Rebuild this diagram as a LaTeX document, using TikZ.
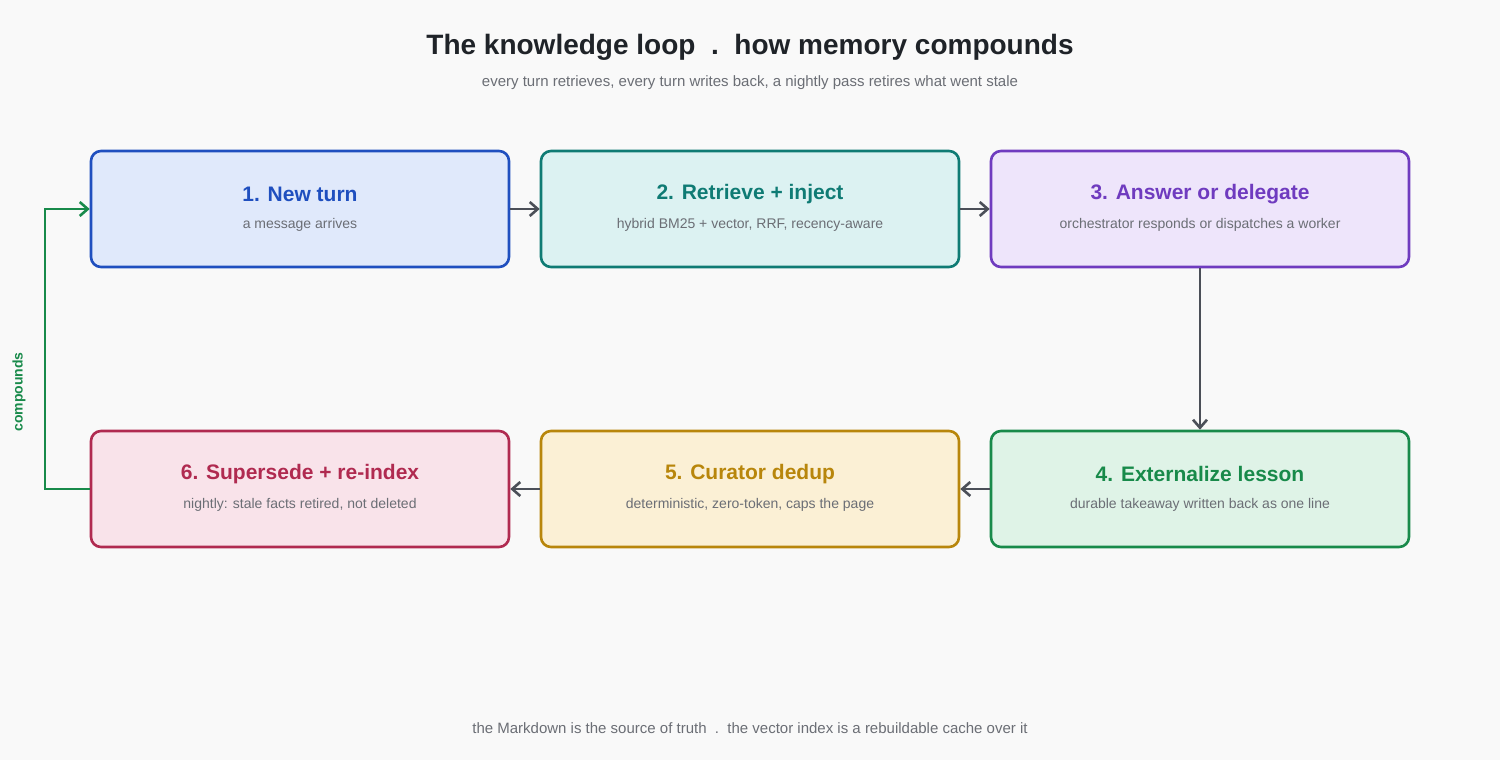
\documentclass[tikz,border=0pt]{standalone}
\usepackage{fontspec}
\setmainfont{Liberation Sans}
\usetikzlibrary{arrows.meta}
\definecolor{bg}{HTML}{F9F9F9}
\definecolor{ar}{HTML}{4B4F58}
\definecolor{tx}{HTML}{1F2328}
\definecolor{sub}{HTML}{6B6E75}
\definecolor{cA}{HTML}{1F4FBF}\definecolor{fA}{HTML}{E0E9FB}
\definecolor{cB}{HTML}{0F7B74}\definecolor{fB}{HTML}{DCF2F2}
\definecolor{cC}{HTML}{6F3BBF}\definecolor{fC}{HTML}{EEE5FB}
\definecolor{cD}{HTML}{188A4A}\definecolor{fD}{HTML}{DFF3E7}
\definecolor{cE}{HTML}{B8860B}\definecolor{fE}{HTML}{FBF0D5}
\definecolor{cF}{HTML}{B02A50}\definecolor{fF}{HTML}{F9E3EA}
\begin{document}
\begin{tikzpicture}[x=0.5pt,y=-0.5pt,
 box/.style={draw=#1,line width=1.3pt,rounded corners=5pt,minimum width=209pt,minimum height=58pt},
 ttl/.style={font=\bfseries\fontsize{10.5}{12}\selectfont,text=#1},
 st/.style={font=\fontsize{7}{8}\selectfont,text=sub},
 arr/.style={draw=ar,line width=1.3pt,-{Straight Barb[length=4pt,width=7pt]}}]
\fill[bg] (0,0) rectangle (1500,760);
\useasboundingbox (0,0) rectangle (1500,760);
\node[font=\bfseries\fontsize{14}{16}\selectfont,text=tx] (title) at (750,47) {The knowledge loop\ \ .\ \ how memory compounds};
\node[font=\fontsize{7.5}{9}\selectfont,text=sub] (subt) at (750,83) {every turn retrieves, every turn writes back, a nightly pass retires what went stale};
\node[font=\fontsize{7.5}{9}\selectfont,text=sub] (foot) at (750,728) {the Markdown is the source of truth\ \ .\ \ the vector index is a rebuildable cache over it};
\node[box=cA,fill=fA] (b1) at (300,209) {};
\node[box=cB,fill=fB] (b2) at (750,209) {};
\node[box=cC,fill=fC] (b3) at (1200,209) {};
\node[box=cD,fill=fD] (b4) at (1200,489) {};
\node[box=cE,fill=fE] (b5) at (750,489) {};
\node[box=cF,fill=fF] (b6) at (300,489) {};
\node[ttl=cA] (t1) at (300,194) {1. New turn};
\node[st] (s1) at (300,225) {a message arrives};
\node[ttl=cB] (t2) at (750,194) {2. Retrieve + inject};
\node[st] (s2) at (750,225) {hybrid BM25 + vector, RRF, recency-aware};
\node[ttl=cC] (t3) at (1200,194) {3. Answer or delegate};
\node[st] (s3) at (1200,225) {orchestrator responds or dispatches a worker};
\node[ttl=cD] (t4) at (1200,474) {4. Externalize lesson};
\node[st] (s4) at (1200,505) {durable takeaway written back as one line};
\node[ttl=cE] (t5) at (750,474) {5. Curator dedup};
\node[st] (s5) at (750,505) {deterministic, zero-token, caps the page};
\node[ttl=cF] (t6) at (300,474) {6. Supersede + re-index};
\node[st] (s6) at (300,505) {nightly: stale facts retired, not deleted};
\draw[arr] (b1) -- (b2);
\draw[arr] (b2) -- (b3);
\draw[arr] (b3) -- (b4);
\draw[arr] (b4) -- (b5);
\draw[arr] (b5) -- (b6);
\coordinate (l1) at (45,489);
\coordinate (l2) at (45,209);
\draw[arr,draw=cD] (b6.west) -- (l1) -- (l2) -- (b1.west);
\node[rotate=90,font=\bfseries\fontsize{7}{8}\selectfont,text=cD] (cp) at (19,392) {compounds};
\end{tikzpicture}
\end{document}
